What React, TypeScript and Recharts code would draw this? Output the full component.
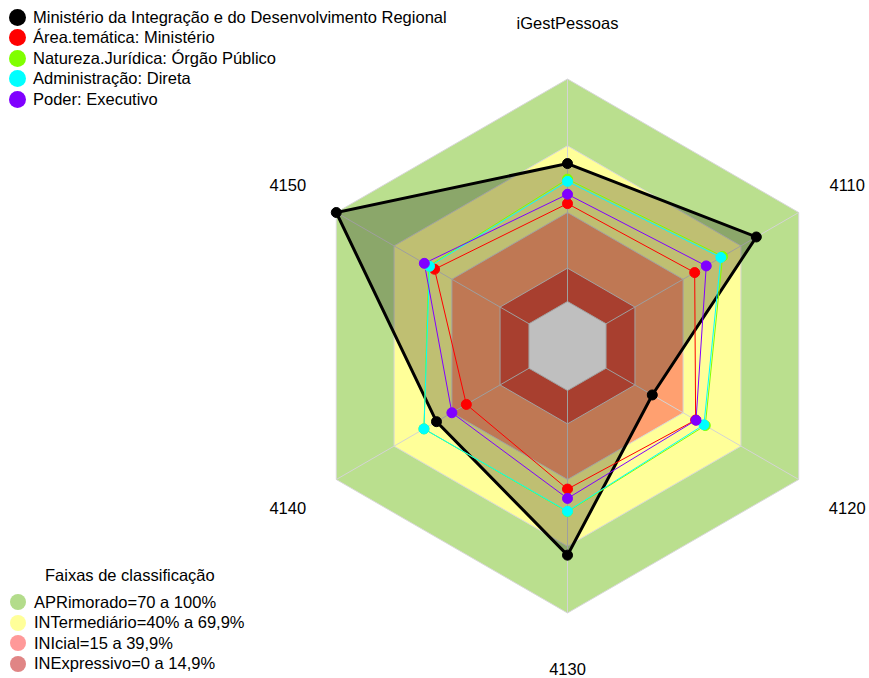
import React from "react";
import { RadarChart, Radar, PolarAngleAxis, PolarRadiusAxis } from "recharts";

const axes = ["iGestPessoas", "4110", "4120", "4130", "4140", "4150"];
const ministerio = [62, 78, 24, 74, 48, 100];
const areaTematica = [44, 46, 46.5, 44.3, 32.5, 49];
const naturezaJuridica = [55, 60.5, 51.5, 54.5, 54.5, 52];
const administracao = [54, 59.6, 50.8, 54.3, 54.5, 51.6];
const poder = [48.2, 52, 46.7, 48.5, 40, 54.3];

const bandLimits = [100, 70, 40, 15];
const bandColors = ["#badf8e", "#ffff99", "#ffa070", "#e0553f"];

const series = [
  { key: "ministerio", name: "Ministério da Integração e do Desenvolvimento Regional", color: "#000000" },
  { key: "area", name: "Área.temática: Ministério", color: "#ff0000" },
  { key: "natureza", name: "Natureza.Jurídica: Órgão Público", color: "#80ff00" },
  { key: "admin", name: "Administração: Direta", color: "#00ffff" },
  { key: "poder", name: "Poder: Executivo", color: "#8000ff" },
];

const faixas = [
  { name: "APRimorado=70 a 100%", color: "#b3dc8b" },
  { name: "INTermediário=40% a 69,9%", color: "#ffff99" },
  { name: "INIcial=15 a 39,9%", color: "#ff9999" },
  { name: "INExpressivo=0 a 14,9%", color: "#e08585" },
];

const data = axes.map((a, i) => ({
  axis: a,
  ministerio: ministerio[i],
  area: areaTematica[i],
  natureza: naturezaJuridica[i],
  admin: administracao[i],
  poder: poder[i],
  b0: bandLimits[0],
  b1: bandLimits[1],
  b2: bandLimits[2],
  b3: bandLimits[3],
  zero: 0,
}));

const CX = 567.5;
const CY = 346;
const LABEL_R = 323;
const font = "'Liberation Sans', Arial, sans-serif";

const AxisTick = (props: any) => {
  const { x, y, payload } = props;
  const ang = Math.atan2(y - CY, x - CX);
  return (
    <text
      x={CX + LABEL_R * Math.cos(ang)}
      y={CY + LABEL_R * Math.sin(ang)}
      textAnchor="middle"
      dominantBaseline="central"
      fontSize={16.5}
      fontFamily={font}
      fill="#000"
    >
      {payload.value}
    </text>
  );
};

const Spokes = (props: any) => {
  const pts = props.points || [];
  return (
    <g>
      {pts.map((p: any, i: number) => (
        <line key={i} x1={p.cx} y1={p.cy} x2={p.x} y2={p.y} stroke="#d4d4d4" strokeWidth={1} />
      ))}
    </g>
  );
};

export default function App() {
  return (
    <div style={{ position: "absolute", left: 0, top: 0, width: 869, height: 678, background: "#fff", fontFamily: font }}>
      <RadarChart width={869} height={678} data={data} cx={CX} cy={CY} outerRadius={267} margin={{ top: 0, right: 0, bottom: 0, left: 0 }}>
        <PolarRadiusAxis domain={[-20, 100]} tick={false} axisLine={false} />
        <PolarAngleAxis dataKey="axis" tick={<AxisTick />} axisLine={false} tickLine={false} />
        {bandColors.map((c, i) => (
          <Radar
            key={"b" + i}
            dataKey={"b" + i}
            fill={c}
            fillOpacity={1}
            stroke="#d8d8d8"
            strokeWidth={1}
            isAnimationActive={false}
          />
        ))}
        <Radar dataKey="b0" fill="none" stroke="none" shape={<Spokes />} isAnimationActive={false} />
        <Radar dataKey="zero" fill="#ffffff" fillOpacity={1} stroke="#d8d8d8" strokeWidth={1} isAnimationActive={false} />
        <Radar
          dataKey="ministerio"
          fill="#000"
          fillOpacity={0.25}
          stroke="#000"
          strokeWidth={3}
          dot={{ r: 5, fill: "#000", fillOpacity: 1, stroke: "#000", strokeWidth: 1 }}
          isAnimationActive={false}
        />
        {series.slice(1).map((s) => (
          <Radar
            key={s.key}
            dataKey={s.key}
            fill="none"
            stroke={s.color}
            strokeWidth={1}
            dot={{ r: 5, fill: s.color, fillOpacity: 1, stroke: s.color, strokeWidth: 1 }}
            isAnimationActive={false}
          />
        ))}
      </RadarChart>

      <div style={{ position: "absolute", left: 9, top: 7 }}>
        {series.map((s) => (
          <div key={s.key} style={{ display: "flex", alignItems: "center", height: 20.5, fontSize: 16.5, color: "#000", whiteSpace: "nowrap" }}>
            <span style={{ width: 17, height: 17, borderRadius: "50%", background: s.color, display: "inline-block", marginRight: 7 }} />
            {s.name}
          </div>
        ))}
      </div>

      <div style={{ position: "absolute", left: 45, top: 566, fontSize: 16.5, color: "#000", whiteSpace: "nowrap" }}>
        Faixas de classificação
      </div>
      <div style={{ position: "absolute", left: 10, top: 592 }}>
        {faixas.map((f) => (
          <div key={f.name} style={{ display: "flex", alignItems: "center", height: 20.5, fontSize: 16.5, color: "#000", whiteSpace: "nowrap" }}>
            <span style={{ width: 16, height: 16, borderRadius: "50%", background: f.color, display: "inline-block", marginRight: 8 }} />
            {f.name}
          </div>
        ))}
      </div>
    </div>
  );
}
